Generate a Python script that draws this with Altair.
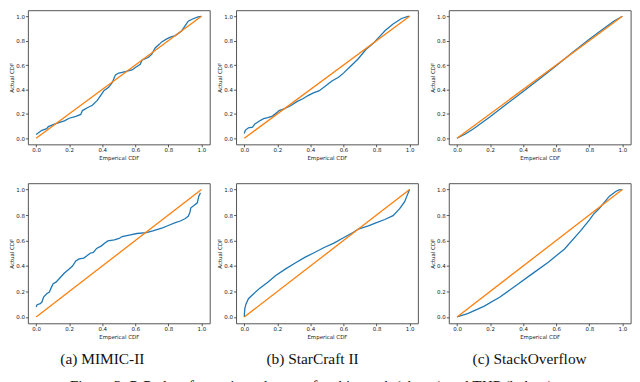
import altair as alt
import pandas as pd

# ---------------- data ----------------
ticks = [0.0, 0.2, 0.4, 0.6, 0.8, 1.0]
diag_x = [0.0, 1.0]
diag_y = [0.0, 1.0]

# (a) MIMIC-II, this work (top)
a1_x = [0, 0.035, 0.064, 0.074, 0.103, 0.142, 0.171, 0.2, 0.24, 0.27, 0.28, 0.31, 0.34, 0.37,
        0.4, 0.41, 0.44, 0.46, 0.48, 0.5, 0.54, 0.58, 0.6, 0.63, 0.64, 0.68, 0.70, 0.72, 0.745,
        0.76, 0.79, 0.82, 0.84, 0.86, 0.88, 0.90, 0.92, 0.95, 0.98, 1.0]
a1_y = [0.031, 0.065, 0.078, 0.096, 0.112, 0.13, 0.143, 0.164, 0.18, 0.195, 0.227, 0.25, 0.27, 0.31,
        0.37, 0.39, 0.42, 0.455, 0.52, 0.535, 0.547, 0.56, 0.58, 0.607, 0.64, 0.664, 0.69, 0.74, 0.77,
        0.79, 0.815, 0.833, 0.84, 0.86, 0.88, 0.92, 0.96, 0.98, 0.995, 1.0]

# (b) StarCraft II, this work (top)
b1_x = [0, 0.006, 0.025, 0.05, 0.064, 0.094, 0.117, 0.142, 0.17, 0.195, 0.21, 0.24, 0.28, 0.318,
        0.357, 0.386, 0.415, 0.454, 0.493, 0.53, 0.57, 0.6, 0.64, 0.688, 0.737, 0.786, 0.805,
        0.854, 0.9, 0.951, 0.99, 1.0]
b1_y = [0.039, 0.065, 0.086, 0.091, 0.117, 0.143, 0.161, 0.169, 0.182, 0.208, 0.227, 0.24, 0.266,
        0.30, 0.326, 0.35, 0.37, 0.39, 0.43, 0.47, 0.50, 0.534, 0.586, 0.65, 0.73, 0.785, 0.815,
        0.885, 0.937, 0.982, 1.0, 1.0]

# (c) StackOverflow, this work (top)
c1_x = [0, 0.05, 0.1, 0.15, 0.2, 0.3, 0.4, 0.5, 0.6, 0.65, 0.7, 0.8, 0.9, 0.95, 1.0]
c1_y = [0, 0.035, 0.078, 0.127, 0.176, 0.28, 0.383, 0.488, 0.595, 0.65, 0.705, 0.812, 0.912, 0.962, 1.0]

# (a) MIMIC-II, THP (bottom)
a2_x = [0, 0.006, 0.025, 0.035, 0.045, 0.064, 0.08, 0.093, 0.103, 0.12, 0.142, 0.171, 0.2, 0.22,
        0.24, 0.26, 0.288, 0.307, 0.327, 0.346, 0.366, 0.395, 0.414, 0.434, 0.473, 0.502, 0.52,
        0.57, 0.61, 0.667, 0.706, 0.735, 0.765, 0.803, 0.842, 0.872, 0.9, 0.92, 0.93, 0.936,
        0.955, 0.975, 0.984, 0.994]
a2_y = [0.078, 0.096, 0.104, 0.117, 0.156, 0.182, 0.195, 0.234, 0.26, 0.273, 0.304, 0.345, 0.377,
        0.40, 0.44, 0.455, 0.462, 0.48, 0.50, 0.506, 0.538, 0.558, 0.579, 0.597, 0.605, 0.616,
        0.631, 0.644, 0.655, 0.662, 0.675, 0.688, 0.70, 0.72, 0.74, 0.753, 0.771, 0.79, 0.82,
        0.857, 0.875, 0.896, 0.948, 0.974]

# (b) StarCraft II, THP (bottom)
b2_x = [0, 0.001, 0.003, 0.01, 0.025, 0.055, 0.094, 0.142, 0.19, 0.25, 0.308, 0.366, 0.425, 0.483,
        0.542, 0.6, 0.66, 0.69, 0.75, 0.8, 0.85, 0.9, 0.94, 0.97, 0.99, 1.0]
b2_y = [0, 0.03, 0.065, 0.10, 0.143, 0.18, 0.226, 0.273, 0.325, 0.377, 0.423, 0.468, 0.506, 0.545,
        0.58, 0.622, 0.665, 0.69, 0.715, 0.74, 0.765, 0.795, 0.85, 0.905, 0.97, 1.0]

# (c) StackOverflow, THP (bottom)
c2_x = [0, 0.064, 0.162, 0.26, 0.357, 0.454, 0.552, 0.649, 0.747, 0.8, 0.825, 0.864, 0.922, 0.96, 0.98, 1.0]
c2_y = [0, 0.026, 0.083, 0.156, 0.247, 0.338, 0.43, 0.532, 0.675, 0.76, 0.805, 0.857, 0.948, 0.985, 0.997, 1.0]

sub_captions = ["(a) MIMIC-II", "(b) StarCraft II", "(c) StackOverflow"]
fig_caption = "Figure 3: P-P plots for various datasets for this work (above) and THP (below)."

BLUE = "#1f77b4"
ORANGE = "#ff7f0e"
W = 183
H1 = 135
H2 = 141
YAXIS_W = 19.2
XAXIS_H = 16.5


def panel(xs, ys, h):
    scale = alt.Scale(domain=[-0.05, 1.05], nice=False, zero=False)
    xax = alt.Axis(values=ticks, tickCount=6, format=".1f", title="Emperical CDF")
    yax = alt.Axis(values=ticks, tickCount=6, format=".1f", title="Actual CDF", titlePadding=1.5)
    xenc = alt.X("x:Q", scale=scale, axis=xax)
    yenc = alt.Y("y:Q", scale=scale, axis=yax)
    blue = alt.Chart(pd.DataFrame({"x": xs, "y": ys})).mark_line(
        color=BLUE, strokeWidth=1.3
    ).encode(x=xenc, y=yenc)
    orange = alt.Chart(pd.DataFrame({"x": diag_x, "y": diag_y})).mark_line(
        color=ORANGE, strokeWidth=1.3
    ).encode(x=xenc, y=yenc)
    return alt.layer(blue, orange).properties(width=W, height=h)


def row(series, h):
    p = [panel(xs, ys, h) for xs, ys in series]
    return alt.hconcat(
        p[0],
        alt.hconcat(p[1], p[2], spacing=29.3 - YAXIS_W),
        spacing=24.7 - YAXIS_W,
    )


row1 = row([(a1_x, a1_y), (b1_x, b1_y), (c1_x, c1_y)], H1)
row2 = row([(a2_x, a2_y), (b2_x, b2_y), (c2_x, c2_y)], H2)

CAP_W = W * 3 + 24.7 + 29.3
CAP_H = 44.5
cap_x = [75, 286.5, 505]
cap_layers = []
for t, cx in zip(sub_captions, cap_x):
    cap_layers.append(
        alt.Chart(pd.DataFrame({"t": [t]})).mark_text(
            font="Liberation Serif", fontSize=15.5, color="#111", baseline="middle",
            align="center", clip=True
        ).encode(text="t:N", x=alt.value(cx), y=alt.value(18))
    )
cap_layers.append(
    alt.Chart(pd.DataFrame({"t": [fig_caption]})).mark_text(
        font="Liberation Serif", fontSize=15.5, color="#111", baseline="top",
        align="center", clip=True
    ).encode(text="t:N", x=alt.value(287), y=alt.value(38.5))
)
captions = alt.layer(*cap_layers).properties(
    width=CAP_W, height=CAP_H, view=alt.ViewBackground(stroke="transparent")
)

chart = alt.vconcat(
    row1,
    alt.vconcat(row2, captions, spacing=0),
    spacing=37.6 - XAXIS_H,
).properties(
    padding=0, background="white"
).configure_view(
    stroke="#555", strokeWidth=1
).configure_axis(
    labelFont="DejaVu Sans", labelFontSize=5.5, labelColor="#222",
    titleFont="DejaVu Sans", titleFontSize=5.5, titleColor="#222", titleFontWeight="normal",
    tickColor="#333", tickSize=2.5, tickWidth=0.8, grid=False, domain=False,
    labelPadding=1, titlePadding=2, labelFlush=False, labelOverlap=False
)

chart.save("out.html", embed_options={"renderer": "svg", "actions": False})
